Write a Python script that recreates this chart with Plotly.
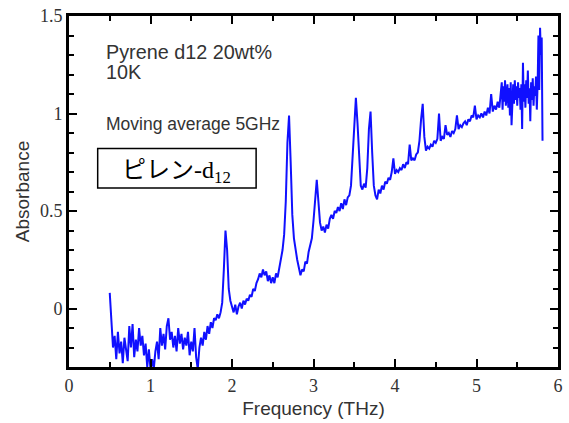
import numpy as np
import plotly.graph_objects as go

# Frequency sampling (THz): 0.02 THz grid up to 5.28, then 0.01 THz grid 5.30-5.81
freq_a = np.round(np.arange(0.50, 5.29, 0.02), 2)
freq_b = np.round(np.arange(5.30, 5.815, 0.01), 2)

abs_a = [
    # 0.50 - 0.68
    0.08, -0.10, -0.20, -0.14, -0.26, -0.12, -0.23, -0.17, -0.28, -0.15,
    # 0.70 - 0.88
    -0.22, -0.27, -0.09, -0.20, -0.08, -0.25, -0.16, -0.22, -0.10, -0.19,
    # 0.90 - 1.08
    -0.14, -0.24, -0.18, -0.30, -0.21, -0.31, -0.26, -0.31, -0.22, -0.17,
    # 1.10 - 1.28
    -0.26, -0.10, -0.19, -0.13, -0.21, -0.09, -0.05, -0.16, -0.12, -0.20,
    # 1.30 - 1.48
    -0.14, -0.22, -0.10, -0.18, -0.13, -0.21, -0.15, -0.19, -0.12, -0.24,
    # 1.50 - 1.68
    -0.17, -0.22, -0.10, -0.25, -0.31, -0.20, -0.15, -0.19, -0.12, -0.16,
    # 1.70 - 1.88
    -0.09, -0.13, -0.07, -0.10, -0.05, -0.06, -0.03, -0.05, -0.02, 0.03,
    # 1.90 - 2.08
    0.20, 0.40, 0.30, 0.10, 0.04, 0.01, -0.02, 0.02, -0.03, 0.01,
    # 2.10 - 2.28
    0.03, 0.00, 0.04, 0.02, 0.05, 0.04, 0.07, 0.06, 0.10, 0.09,
    # 2.30 - 2.48
    0.13, 0.15, 0.18, 0.16, 0.20, 0.17, 0.19, 0.14, 0.17, 0.13,
    # 2.50 - 2.68
    0.16, 0.13, 0.18, 0.16, 0.21, 0.24, 0.30, 0.38, 0.55, 0.85,
    # 2.70 - 2.88
    0.99, 0.75, 0.48, 0.36, 0.30, 0.25, 0.21, 0.17, 0.20, 0.19,
    # 2.90 - 3.08
    0.24, 0.23, 0.29, 0.32, 0.36, 0.45, 0.58, 0.66, 0.55, 0.44,
    # 3.10 - 3.28
    0.40, 0.42, 0.39, 0.43, 0.41, 0.46, 0.48, 0.46, 0.50, 0.49,
    # 3.30 - 3.48
    0.52, 0.50, 0.54, 0.51, 0.56, 0.53, 0.57, 0.58, 0.63, 0.78,
    # 3.50 - 3.68
    0.98, 1.08, 0.95, 0.75, 0.63, 0.61, 0.64, 0.62, 0.72, 0.92,
    # 3.70 - 3.88
    1.01, 0.80, 0.63, 0.58, 0.56, 0.61, 0.59, 0.63, 0.61, 0.65,
    # 3.90 - 4.08
    0.64, 0.67, 0.66, 0.70, 0.77, 0.69, 0.71, 0.70, 0.72, 0.71,
    # 4.10 - 4.28
    0.74, 0.72, 0.75, 0.74, 0.84, 0.76, 0.77, 0.76, 0.79, 0.80,
    # 4.30 - 4.48
    0.86, 0.97, 1.05, 0.88, 0.81, 0.83, 0.82, 0.84, 0.83, 0.86,
    # 4.50 - 4.68
    0.85, 0.87, 1.00, 0.86, 0.88, 0.87, 0.94, 0.89, 0.90, 0.88,
    # 4.70 - 4.88
    0.91, 0.90, 0.92, 0.99, 0.92, 0.94, 0.93, 0.95, 0.96, 0.94,
    # 4.90 - 5.08
    0.97, 0.96, 0.99, 0.98, 1.04, 0.97, 0.99, 0.98, 1.00, 0.98,
    # 5.10 - 5.28
    1.01, 0.99, 1.03, 1.00, 1.10, 1.01, 1.04, 1.02, 1.06, 1.03,
]

abs_b = [
    # 5.30 - 5.39
    1.10, 1.16, 1.02, 1.14, 1.06, 1.17, 1.04, 1.12, 1.15, 1.03,
    # 5.40 - 5.49
    1.13, 0.99, 1.16, 0.94, 1.10, 1.15, 1.05, 1.17, 1.07, 1.14,
    # 5.50 - 5.59
    1.04, 1.16, 1.08, 1.13, 1.02, 1.15, 0.92, 1.26, 1.06, 1.15,
    # 5.60 - 5.69
    1.03, 1.17, 1.08, 1.22, 1.05, 1.13, 0.96, 1.16, 1.07, 1.18,
    # 5.70 - 5.81
    1.04, 1.14, 1.09, 1.19, 1.02, 1.15, 1.40, 1.12, 1.44, 1.30, 1.39, 0.86,
]

freq = list(freq_a) + list(freq_b)
absorb = abs_a + abs_b

X_RANGE = [0, 6]
Y_RANGE = [-0.3, 1.5]

fig = go.Figure()
fig.add_trace(go.Scatter(x=freq, y=absorb, mode="lines",
                         line=dict(color="#1010ff", width=2),
                         showlegend=False, hoverinfo="skip"))

tick_font = dict(family="Liberation Serif", size=18, color="#333333")
minor_x = dict(dtick=0.5, ticks="inside", ticklen=5, tickwidth=2, tickcolor="black", showgrid=False)
minor_y = dict(dtick=0.1, ticks="inside", ticklen=5, tickwidth=2, tickcolor="black", showgrid=False)
axis_common = dict(showline=True, linecolor="black", linewidth=3, mirror="allticks",
                   ticks="inside", ticklen=8, tickwidth=2, tickcolor="black",
                   showgrid=False, zeroline=False, tickfont=tick_font)

fig.update_layout(
    xaxis=dict(range=X_RANGE, dtick=1, tick0=0, minor=minor_x,
               title=dict(text="Frequency (THz)", standoff=8,
                          font=dict(family="Liberation Sans", size=19, color="#333333")),
               **axis_common),
    yaxis=dict(range=Y_RANGE, dtick=0.5, tick0=0, minor=minor_y,
               title=dict(text="Absorbance", standoff=6,
                          font=dict(family="Liberation Sans", size=19, color="#333333")),
               **axis_common),
)

# box around Japanese label
fig.add_shape(type="rect", xref="x", yref="y", x0=0.352, x1=2.296, y0=0.618, y1=0.821,
              line=dict(color="black", width=1.5), fillcolor="white", layer="above")

ann_font = dict(family="Liberation Sans", color="#333333")
fig.add_annotation(xref="paper", yref="paper", x=0.071, y=(370 - 52) / 354,
                   xanchor="left", yanchor="middle", showarrow=False,
                   text="Pyrene d12 20wt%", font=dict(size=19.8, **ann_font))
fig.add_annotation(xref="paper", yref="paper", x=0.071, y=(370 - 72) / 354,
                   xanchor="left", yanchor="middle", showarrow=False,
                   text="10K", font=dict(size=19.8, **ann_font))
fig.add_annotation(xref="paper", yref="paper", x=0.071, y=(370 - 125) / 354,
                   xanchor="left", yanchor="middle", showarrow=False,
                   text="Moving average 5GHz", font=dict(size=17.5, **ann_font))
fig.add_annotation(xref="x", yref="y", x=1.324, y=0.72,
                   xanchor="center", yanchor="middle", showarrow=False,
                   text="ピレン<span style='font-family:Liberation Serif'>-d<sub>12</sub></span>",
                   font=dict(family="Noto Sans CJK JP", size=24, color="black"))

fig.update_layout(width=569, height=423,
                  margin=dict(l=69, r=6, t=16, b=53),
                  plot_bgcolor="white", paper_bgcolor="white")

fig.write_html("out.html")
